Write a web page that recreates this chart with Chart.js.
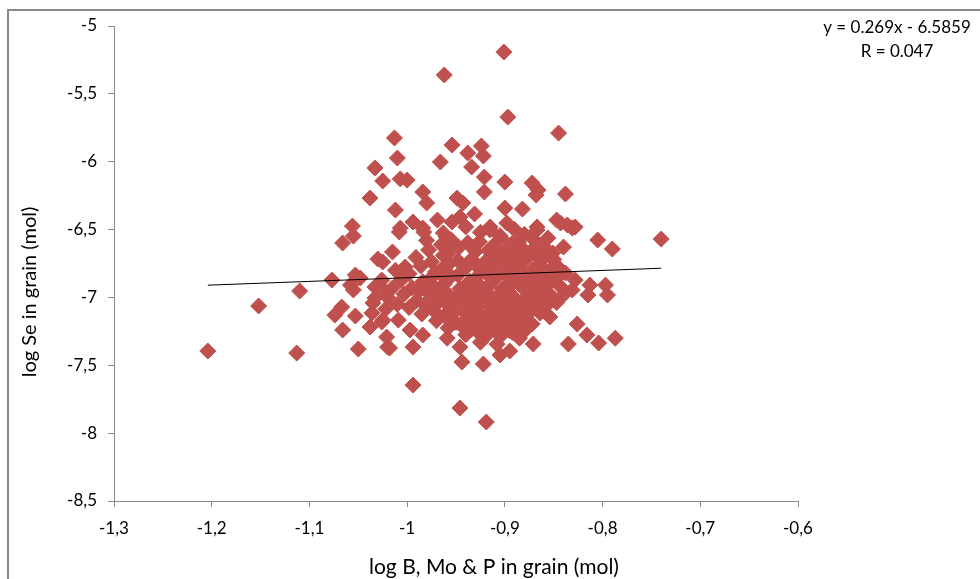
<!DOCTYPE html>
<html>
<head>
<meta charset="utf-8">
<script src="https://cdn.jsdelivr.net/npm/chart.js@4.4.1/dist/chart.umd.min.js"></script>
<style>
  html, body { margin: 0; padding: 0; background: #fff; }
  canvas { display: block; }
</style>
</head>
<body>
<canvas id="grafico" width="980" height="579"></canvas>
<script>
// log B, Mo & P in grain (mol) -> eixo x
const logBMoP = [
  // pontos isolados / periferia
  -1.204, -1.152, -1.113, -1.110, -1.077, -1.067, -1.074, -1.053, -1.066, -1.050,
  -1.020, -1.021, -1.035, -1.036, -1.026, -1.038, -1.053, -1.048, -1.058, -1.055,
  -1.033, -1.026, -1.023, -1.033, -1.030, -1.015, -1.056, -1.055, -1.066, -1.038,
  -1.033, -1.025, -1.013, -1.010, -1.012, -0.962, -0.901, -0.897, -0.845, -0.954,
  -0.938, -0.924, -0.922, -0.966, -0.934, -1.007, -1.000, -0.921, -0.900, -0.872,
  -0.866, -0.868, -0.984, -0.980, -0.921, -0.838, -0.949, -0.943, -0.900, -0.882,
  -0.931, -0.969, -0.994, -0.954, -0.946, -0.847, -0.836, -1.007, -0.984, -0.915,
  -0.898, -0.867, -0.828, -1.008, -0.983, -0.963, -1.025, -1.002, -0.936, -0.915,
  -1.009, -1.025, -0.997, -0.984, -1.018, -0.994, -0.959, -0.946, -0.944, -0.922,
  -0.905, -0.994, -0.946, -0.919, -0.867, -0.843, -0.831, -0.805, -0.790, -0.856,
  -0.840, -0.869, -0.861, -0.851, -0.813, -0.797, -0.795, -0.815, -0.828, -0.840,
  -0.854, -0.881, -0.871, -0.835, -0.826, -0.816, -0.804, -0.787, -0.895, -0.740,
  // nucleo denso
  -0.955, -0.926, -0.904, -0.886, -0.871,
  -0.978, -0.947, -0.917, -0.896, -0.879, -0.858,
  -0.991, -0.963, -0.934, -0.911, -0.893, -0.874, -0.850,
  -0.986, -0.957, -0.928, -0.906, -0.887, -0.865, -0.845,
  -0.998, -0.971, -0.948, -0.921, -0.900, -0.881, -0.861, -0.838,
  -1.006, -0.984, -0.961, -0.936, -0.913, -0.892, -0.872, -0.853,
  -0.995, -0.973, -0.946, -0.925, -0.903, -0.884, -0.864, -0.843, -0.831,
  -1.003, -0.979, -0.957, -0.935, -0.915, -0.895, -0.876, -0.855,
  -0.990, -0.968, -0.945, -0.923, -0.905, -0.886, -0.866, -0.847,
  -0.998, -0.975, -0.954, -0.933, -0.912, -0.893, -0.874, -0.858,
  -0.985, -0.962, -0.940, -0.920, -0.900, -0.882, -0.864,
  -0.970, -0.950, -0.928, -0.908, -0.890, -0.872,
  -0.958, -0.935, -0.915, -0.895, -0.878,
  -0.940, -0.920, -0.902, -0.885,
  -0.925, -0.908,
  -1.015, -1.010, -1.020, -1.012, -1.022,
  -0.940, -0.925, -0.890, -0.905, -0.880, -0.960, -0.980,
  // nucleo denso (segunda camada)
  -0.965, -0.938, -0.912, -0.893, -0.866,
  -0.958, -0.930, -0.906, -0.887, -0.868,
  -0.975, -0.948, -0.921, -0.900, -0.882, -0.862,
  -0.965, -0.940, -0.915, -0.893, -0.872, -0.852,
  -0.975, -0.955, -0.930, -0.908, -0.888, -0.868, -0.846,
  -0.962, -0.938, -0.916, -0.896, -0.876, -0.856,
  -0.988, -0.966, -0.942, -0.920, -0.900, -0.880, -0.862,
  -0.970, -0.950, -0.928, -0.908, -0.890, -0.870, -0.852,
  -0.982, -0.960, -0.938, -0.918, -0.898, -0.880, -0.862,
  -0.972, -0.950, -0.928, -0.908, -0.890, -0.872,
  -0.958, -0.938, -0.918, -0.898, -0.880,
  -0.945, -0.925, -0.905, -0.886,
  -0.928, -0.910, -0.892
];

// log Se in grain (mol) -> eixo y
const logSe = [
  -7.395, -7.063, -7.410, -6.953, -6.872, -7.071, -7.130, -7.137, -7.240, -7.380,
  -7.366, -7.292, -7.041, -7.115, -7.181, -7.218, -6.835, -6.857, -6.909, -6.945,
  -6.923, -6.872, -6.953, -7.004, -6.717, -6.665, -6.474, -6.548, -6.599, -6.268,
  -6.046, -6.142, -5.825, -5.973, -6.356, -5.361, -5.192, -5.671, -5.789, -5.877,
  -5.936, -5.884, -5.958, -6.002, -6.039, -6.127, -6.135, -6.113, -6.150, -6.157,
  -6.209, -6.245, -6.223, -6.304, -6.223, -6.238, -6.268, -6.304, -6.341, -6.349,
  -6.385, -6.430, -6.444, -6.444, -6.408, -6.430, -6.466, -6.489, -6.489, -6.481,
  -6.452, -6.481, -6.481, -6.518, -6.518, -6.525, -6.739, -6.776, -6.614, -6.503,
  -7.167, -7.167, -7.240, -7.277, -7.373, -7.366, -7.300, -7.366, -7.476, -7.491,
  -7.424, -7.646, -7.815, -7.918, -6.503, -6.452, -6.489, -6.577, -6.643, -6.562,
  -6.629, -6.629, -6.702, -6.673, -6.909, -6.909, -6.982, -6.982, -6.872, -6.982,
  -7.144, -7.255, -7.343, -7.343, -7.196, -7.277, -7.336, -7.300, -7.395, -6.570,
  -6.575, -6.590, -6.560, -6.595, -6.570,
  -6.650, -6.632, -6.655, -6.628, -6.660, -6.640,
  -6.705, -6.690, -6.718, -6.695, -6.712, -6.688, -6.720,
  -6.768, -6.752, -6.775, -6.748, -6.770, -6.755, -6.780,
  -6.825, -6.812, -6.835, -6.808, -6.830, -6.815, -6.838, -6.820,
  -6.872, -6.885, -6.862, -6.880, -6.868, -6.890, -6.865, -6.884,
  -6.928, -6.915, -6.935, -6.918, -6.940, -6.912, -6.930, -6.922, -6.945,
  -6.975, -6.962, -6.985, -6.968, -6.990, -6.965, -6.982, -6.970,
  -7.022, -7.035, -7.012, -7.030, -7.015, -7.040, -7.020, -7.038,
  -7.075, -7.062, -7.085, -7.068, -7.090, -7.070, -7.082, -7.065,
  -7.122, -7.135, -7.118, -7.140, -7.125, -7.138, -7.115,
  -7.172, -7.185, -7.168, -7.190, -7.175, -7.195,
  -7.225, -7.238, -7.220, -7.245, -7.228,
  -7.275, -7.290, -7.268, -7.300,
  -7.330, -7.345,
  -6.930, -7.050, -7.000, -6.800, -7.085,
  -6.480, -6.520, -6.500, -6.545, -6.535, -6.555, -6.580,
  -6.612, -6.598, -6.620, -6.605, -6.615,
  -6.675, -6.662, -6.680, -6.668, -6.690,
  -6.738, -6.728, -6.745, -6.730, -6.742, -6.725,
  -6.795, -6.782, -6.800, -6.788, -6.798, -6.785,
  -6.852, -6.845, -6.858, -6.848, -6.855, -6.842, -6.850,
  -6.902, -6.895, -6.908, -6.898, -6.905, -6.892,
  -6.952, -6.945, -6.958, -6.948, -6.955, -6.942, -6.950,
  -7.002, -6.995, -7.008, -6.998, -7.005, -6.992, -7.000,
  -7.052, -7.045, -7.058, -7.048, -7.055, -7.042, -7.050,
  -7.102, -7.095, -7.108, -7.098, -7.105, -7.092,
  -7.152, -7.145, -7.158, -7.148, -7.155,
  -7.202, -7.195, -7.208, -7.198,
  -7.252, -7.245, -7.258
];

// linha de tendencia (equacao do grafico)
const tendenciaInclinacao = 0.269;
const tendenciaIntercepto = -6.5859;
const tendenciaX = [-1.204, -0.740];

const equacao = ['y = 0.269x - 6.5859', 'R = 0.047'];
const tituloX = 'log B, Mo & P in grain (mol)';
const tituloY = 'log Se in grain (mol)';

const fonte = 'Lato, "Open Sans", sans-serif';

function formatarVirgula(v) {
  return String(Math.round(v * 10) / 10).replace('.', ',');
}

const pontos = logBMoP.map((x, i) => ({ x: x, y: logSe[i] }));
const tendencia = tendenciaX.map(x => ({ x: x, y: tendenciaInclinacao * x + tendenciaIntercepto }));

// moldura, titulos dos eixos e equacao
const decoracao = {
  id: 'decoracao',
  beforeDraw(chart) {
    const ctx = chart.ctx;
    ctx.save();
    ctx.fillStyle = '#fff';
    ctx.fillRect(0, 0, chart.width, chart.height);
    ctx.strokeStyle = '#8a8a8a';
    ctx.lineWidth = 2;
    ctx.strokeRect(8, 10, 1200, 1200);
    ctx.restore();
  },
  afterDraw(chart) {
    const ctx = chart.ctx;
    ctx.save();
    ctx.fillStyle = '#000';
    ctx.textAlign = 'center';
    ctx.textBaseline = 'middle';

    ctx.font = '17px ' + fonte;
    ctx.fillText(equacao[0], 897, 28);
    ctx.fillText(equacao[1], 897, 52);

    ctx.font = '21px ' + fonte;
    ctx.fillText(tituloX, 494, 567);

    ctx.font = '20px ' + fonte;
    ctx.translate(30, 292);
    ctx.rotate(-Math.PI / 2);
    ctx.fillText(tituloY, 0, 0);
    ctx.restore();
  }
};

new Chart(document.getElementById('grafico'), {
  type: 'scatter',
  data: {
    datasets: [
      {
        type: 'line',
        data: tendencia,
        borderColor: '#000',
        borderWidth: 1,
        pointRadius: 0,
        fill: false
      },
      {
        data: pontos,
        pointStyle: 'rectRot',
        pointRadius: 8,
        backgroundColor: '#C0504D',
        borderColor: '#C0504D',
        borderWidth: 1
      }
    ]
  },
  options: {
    responsive: false,
    animation: false,
    layout: { padding: { left: 0, top: 26, right: 182, bottom: 0 } },
    plugins: {
      legend: { display: false },
      tooltip: { enabled: false }
    },
    scales: {
      x: {
        type: 'linear',
        min: -1.3,
        max: -0.6,
        afterFit(scale) { scale.height = 78; },
        border: { display: true, color: '#8a8a8a', width: 1 },
        grid: { drawOnChartArea: false, drawTicks: true, tickLength: 6, color: '#8a8a8a' },
        ticks: {
          stepSize: 0.1,
          padding: 11,
          color: '#000',
          font: { family: fonte, size: 17 },
          callback: formatarVirgula
        }
      },
      y: {
        type: 'linear',
        min: -8.5,
        max: -5,
        afterFit(scale) { scale.width = 114; },
        border: { display: true, color: '#8a8a8a', width: 1 },
        grid: { drawOnChartArea: false, drawTicks: true, tickLength: 6, color: '#8a8a8a' },
        ticks: {
          stepSize: 0.5,
          padding: 11,
          color: '#000',
          font: { family: fonte, size: 17 },
          callback: formatarVirgula
        }
      }
    }
  },
  plugins: [decoracao]
});
</script>
</body>
</html>
